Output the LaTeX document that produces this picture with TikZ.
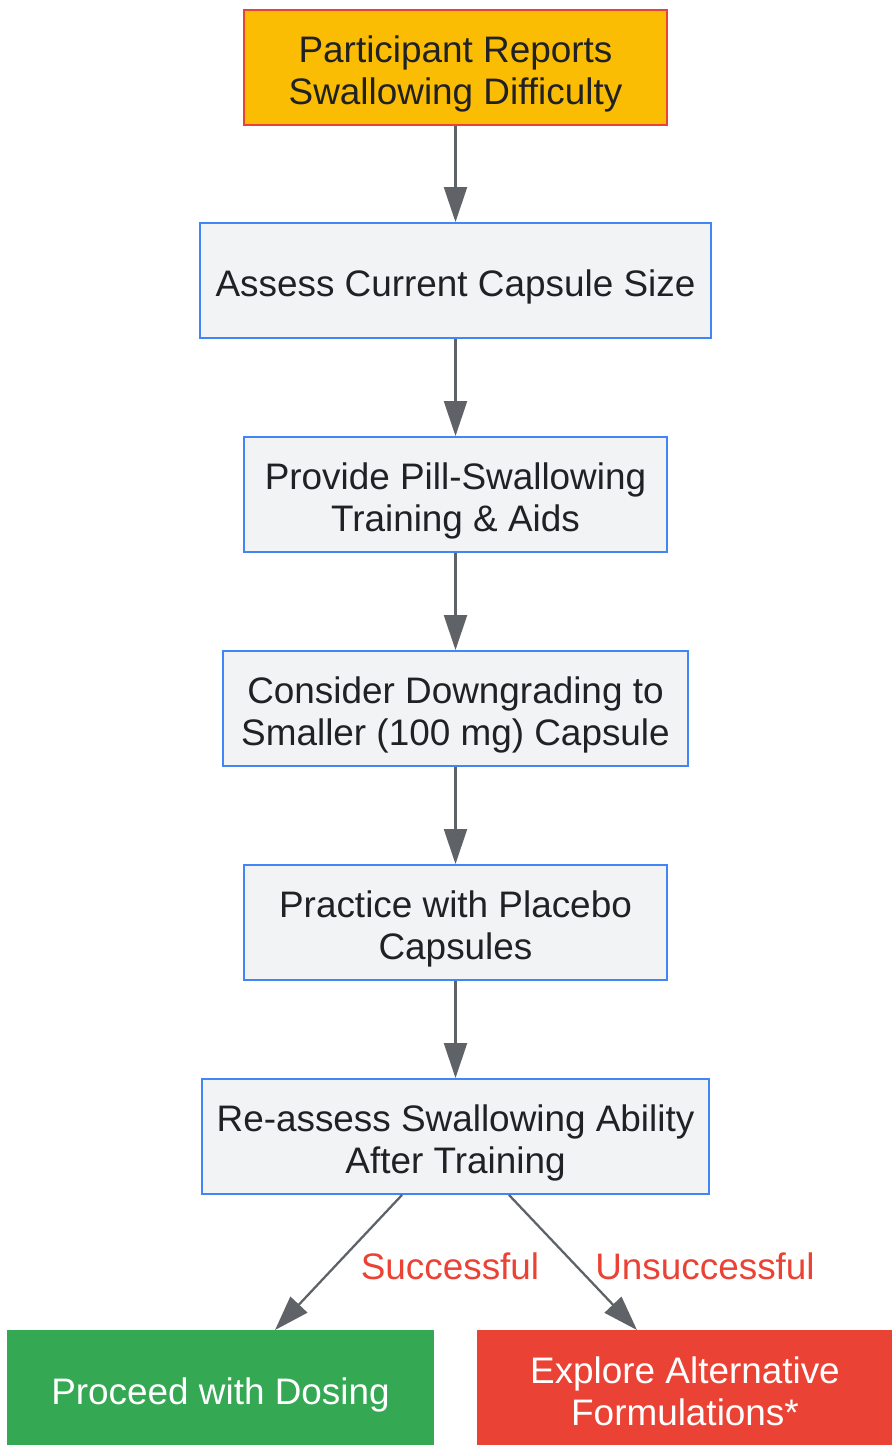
\documentclass[tikz,border=0pt]{standalone}
\usepackage{fontspec}
\setmainfont{Liberation Sans}
\usetikzlibrary{arrows.meta,calc}

\definecolor{stepfill}{HTML}{F1F3F4}
\definecolor{stepline}{HTML}{4285F4}
\definecolor{startfill}{HTML}{FBBC04}
\definecolor{startline}{HTML}{EA4335}
\definecolor{okfill}{HTML}{34A853}
\definecolor{failfill}{HTML}{EA4335}
\definecolor{textdark}{HTML}{202124}
\definecolor{arrowgray}{HTML}{5F6368}

% lower the text a little inside its box, keeping the box size
\newcommand{\boxtext}[1]{\raisebox{-4.4pt}[\height][\depth]{\begin{tabular}{@{}c@{}}#1\end{tabular}}}

\tikzset{
    box/.style={draw, line width=1.1pt, inner sep=0pt,
        minimum height=2.3cm, text=textdark,
        font=\fontsize{21}{24}\selectfont},
    stepbox/.style={box, fill=stepfill, draw=stepline},
    startbox/.style={box, fill=startfill, draw=startline},
    endbox/.style={box, text=white, minimum height=2.28cm},
    flow/.style={draw=arrowgray, line width=1.3pt,
        -{Triangle[length=0.7cm, width=0.46cm]}},
    edgelabel/.style={text=failfill, font=\fontsize{21}{24}\selectfont}
}

\begin{document}
\begin{tikzpicture}[x=0.02cm, y=-0.02cm]
    \useasboundingbox (0,0) rectangle (892,1445);
    \node[startbox, minimum width=8.46cm] (report) at (455.5,67.5) {\boxtext{Participant Reports\\Swallowing Difficulty}};
    \node[stepbox, minimum width=10.22cm] (assess) at (455.5,280.5) {\boxtext{Assess Current Capsule Size}};
    \node[stepbox, minimum width=8.46cm] (train) at (455.5,494.5) {\boxtext{Provide Pill-Swallowing\\Training \& Aids}};
    \node[stepbox, minimum width=9.3cm] (downgrade) at (455.5,708.5) {\boxtext{Consider Downgrading to\\Smaller (100 mg) Capsule}};
    \node[stepbox, minimum width=8.46cm] (practice) at (455.5,922.5) {\boxtext{Practice with Placebo\\Capsules}};
    \node[stepbox, minimum width=10.14cm] (reassess) at (455.5,1136.5) {\boxtext{Re-assess Swallowing Ability\\After Training}};
    \node[endbox, fill=okfill, draw=okfill, minimum width=8.5cm] (proceed) at (220.5,1388) {\boxtext{Proceed with Dosing}};
    \node[endbox, fill=failfill, draw=failfill, minimum width=8.28cm] (explore) at (685,1388) {\boxtext{Explore Alternative\\Formulations*}};
    \draw[flow] (report) -- (assess);
    \draw[flow] (assess) -- (train);
    \draw[flow] (train) -- (downgrade);
    \draw[flow] (downgrade) -- (practice);
    \draw[flow] (practice) -- (reassess);
    \draw[flow] ($(reassess.south)+(-53.5,0)$) -- ($(proceed.north)+(54.5,0)$);
    \draw[flow] ($(reassess.south)+(53.5,0)$) -- ($(explore.north)+(-48,0)$);
    \node[edgelabel] (ok) at (450,1266) {Successful};
    \node[edgelabel] (fail) at (705,1266) {Unsuccessful};
\end{tikzpicture}
\end{document}
